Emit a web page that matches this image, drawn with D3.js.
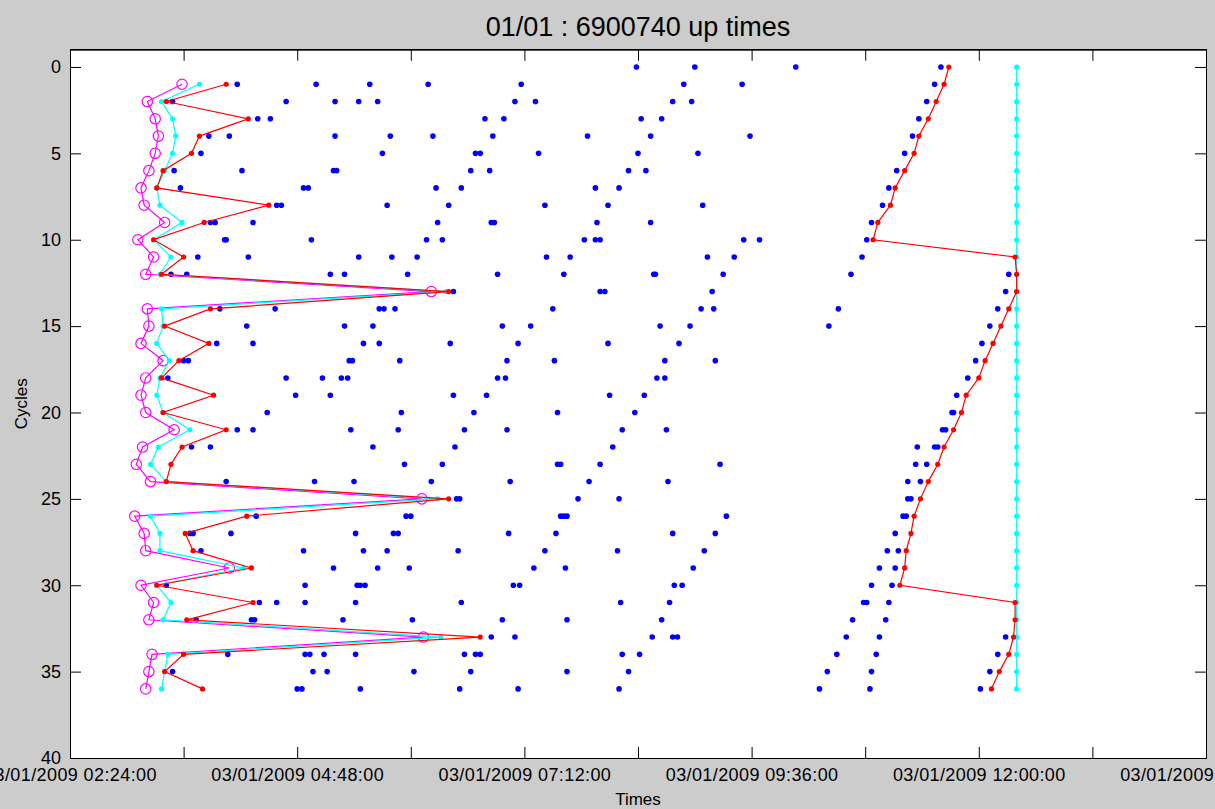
<!DOCTYPE html>
<html>
<head>
<meta charset="utf-8">
<script src="https://cdn.jsdelivr.net/npm/d3@7"></script>
<style>
  html, body { margin: 0; padding: 0; background: #cccccc; overflow: hidden; }
  svg { display: block; font-family: "Liberation Sans", Arial, sans-serif; }
</style>
</head>
<body>
<svg width="1215" height="809"></svg>
<script>
// Day of the recording and cycle numbers
const day = "03/01/2009";
const cycles = [0, 1, 2, 3, 4, 5, 6, 7, 8, 9, 10, 11, 12, 13, 14, 15, 16, 17, 18,
  19, 20, 21, 22, 23, 24, 25, 26, 27, 28, 29, 30, 31, 32, 33, 34, 35, 36];

// Blue dots: up times per cycle
const upTimes = [
  ["08:23", "09:00", "10:04", "11:36"],
  ["04:10", "05:00", "05:34", "06:11", "07:10", "08:53", "09:30", "11:32"],
  ["03:29", "04:41", "05:12", "05:27", "05:39", "07:06", "07:19", "08:46", "08:58", "11:27"],
  ["04:23", "04:31", "06:47", "06:59", "08:26", "08:39", "11:22"],
  ["03:52", "04:05", "05:12", "05:47", "06:14", "06:52", "07:52", "08:32", "09:35", "11:18"],
  ["03:47", "05:42", "06:41", "06:44", "07:21", "08:24", "09:02", "11:13"],
  ["03:30", "04:13", "05:11", "05:13", "06:38", "06:50", "08:18", "08:29", "11:08"],
  ["03:34", "04:52", "04:55", "06:16", "06:32", "07:57", "08:12", "11:03"],
  ["04:35", "04:38", "05:45", "06:24", "07:25", "08:05", "09:05", "10:59"],
  ["03:53", "03:56", "04:20", "06:17", "06:51", "06:53", "07:58", "08:32", "10:52"],
  ["04:02", "04:03", "04:57", "06:10", "06:20", "07:50", "07:57", "08:00", "09:31", "09:41", "10:49"],
  ["03:45", "04:17", "05:27", "05:48", "06:04", "07:26", "07:41", "09:08", "09:25", "10:46"],
  ["03:28", "03:38", "05:09", "05:18", "05:58", "06:55", "07:37", "08:34", "08:35", "09:18", "10:39", "12:19"],
  ["06:27", "08:00", "08:03", "09:11", "12:17"],
  ["03:59", "04:34", "05:40", "05:43", "05:50", "07:30", "09:04", "09:12", "10:31", "12:12"],
  ["04:16", "05:18", "05:36", "06:58", "07:16", "08:38", "08:57", "10:25", "12:07"],
  ["03:57", "04:20", "05:30", "05:40", "06:25", "07:08", "08:05", "08:50", "12:02"],
  ["03:36", "03:39", "05:21", "05:23", "05:53", "07:01", "07:31", "08:41", "09:13", "11:58"],
  ["03:26", "04:41", "05:04", "05:16", "05:20", "06:55", "07:00", "08:36", "08:41", "11:53"],
  ["04:47", "05:09", "06:27", "06:48", "08:06", "08:28", "11:46"],
  ["04:29", "05:54", "06:40", "07:33", "08:22", "11:43", "11:44"],
  ["04:10", "04:20", "05:22", "05:52", "06:34", "07:01", "08:14", "08:42", "11:37", "11:39"],
  ["03:41", "03:53", "05:36", "06:28", "08:08", "11:21", "11:32", "11:34"],
  ["05:56", "06:20", "07:33", "07:35", "08:00", "09:16", "11:20", "11:27"],
  ["04:03", "04:59", "05:24", "06:13", "07:03", "07:53", "08:43", "11:15", "11:23"],
  ["06:29", "06:31", "07:46", "08:12", "11:15", "11:17"],
  ["04:22", "05:57", "06:00", "07:35", "07:37", "07:39", "09:20", "11:12", "11:14"],
  ["03:40", "03:42", "04:06", "05:25", "05:49", "05:52", "07:02", "07:32", "08:46", "09:13", "11:07"],
  ["03:47", "04:52", "05:30", "05:45", "06:30", "07:25", "08:11", "09:06", "11:02", "11:09"],
  ["05:11", "05:39", "05:59", "07:18", "07:38", "08:59", "10:57", "11:07"],
  ["03:25", "04:53", "05:26", "05:28", "05:31", "07:05", "07:09", "08:47", "08:52", "10:52", "11:05"],
  ["04:24", "04:35", "04:53", "05:25", "06:32", "08:13", "08:44", "10:47", "10:49", "11:03"],
  ["03:44", "04:19", "04:21", "05:17", "06:01", "06:58", "07:39", "08:39", "10:40", "11:01"],
  ["06:51", "07:06", "08:33", "08:46", "08:49", "10:36", "10:57", "12:17"],
  ["04:04", "04:53", "04:56", "05:05", "05:25", "06:34", "06:41", "06:44", "08:14", "08:25", "10:30", "10:55", "12:12"],
  ["03:29", "04:58", "05:07", "06:02", "06:38", "07:39", "08:18", "10:24", "10:52", "12:07"],
  ["04:48", "04:51", "05:28", "06:31", "07:08", "08:12", "10:19", "10:51", "12:01"]
];

// Magenta circles (left), cycle 0 has none
const magentaTimes = [null, "03:35", "03:13", "03:18", "03:20", "03:18", "03:14", "03:09", "03:11",
  "03:24", "03:07", "03:17", "03:12", "06:13", "03:13", "03:14", "03:09", "03:23", "03:12", "03:09",
  "03:12", "03:30", "03:10", "03:06", "03:15", "06:07", "03:05", "03:11", "03:12", "04:05", "03:09",
  "03:17", "03:14", "06:08", "03:16", "03:14", "03:12"];

// Cyan line (left)
const cyanLeftTimes = [null, "03:46", "03:22", "03:29", "03:31", "03:29", "03:24", "03:19", "03:21",
  "03:35", "03:17", "03:28", "03:21", "06:22", "03:22", "03:23", "03:19", "03:27", "03:21", "03:19",
  "03:23", "03:40", "03:20", "03:15", "03:25", "06:17", "03:15", "03:21", "03:21", "04:14", "03:19",
  "03:28", "03:23", "06:19", "03:26", "03:24", "03:22"];

// Red line (left)
const redLeftTimes = [null, "04:03", "03:25", "04:17", "03:46", "03:41", "03:23", "03:19", "04:30",
  "03:49", "03:17", "03:36", "03:22", "06:24", "03:53", "03:24", "03:52", "03:33", "03:22", "03:55",
  "03:23", "04:03", "03:35", "03:28", "03:25", "06:24", "04:16", "03:37", "03:42", "04:19", "03:19",
  "04:20", "03:38", "06:44", "03:36", "03:24", "03:48"];

// Red line (right)
const redRightTimes = ["11:41", "11:38", "11:33", "11:28", "11:22", "11:19", "11:13", "11:07", "11:04",
  "10:56", "10:53", "12:23", "12:24", "12:24", "12:19", "12:14", "12:09", "12:04", "12:00", "11:52",
  "11:49", "11:44", "11:38", "11:34", "11:28", "11:23", "11:19", "11:17", "11:14", "11:13", "11:10",
  "12:23", "12:23", "12:22", "12:19", "12:13", "12:08"];

// Cyan line (right)
const cyanRightTimes = ["12:24", "12:24", "12:24", "12:24", "12:24", "12:24", "12:24", "12:24", "12:24",
  "12:24", "12:24", "12:24", "12:24", "12:24", "12:24", "12:24", "12:24", "12:24", "12:24", "12:24",
  "12:24", "12:24", "12:24", "12:24", "12:24", "12:24", "12:24", "12:24", "12:24", "12:24", "12:24",
  "12:24", "12:24", "12:24", "12:24", "12:24", "12:24"];

// Axis ticks
const xTickTimes = ["02:24", "03:36", "04:48", "06:00", "07:12", "08:24", "09:36", "10:48", "12:00", "13:12", "14:24"];
const xLabelTimes = ["02:24", "04:48", "07:12", "09:36", "12:00", "14:24"];
const yTicks = [0, 5, 10, 15, 20, 25, 30, 35, 40];

const parse = d3.timeParse("%d/%m/%Y %H:%M");
const t = (s) => parse(day + " " + s);
const fmt = d3.timeFormat("%d/%m/%Y %H:%M:%S");

// Plot box
const boxLeft = 70, boxRight = 1206, boxTop = 49.7, boxBottom = 758;
const svg = d3.select("svg");

const x = d3.scaleTime().domain([t("02:24"), t("14:24")]).range([boxLeft, boxRight]);
const y = d3.scaleLinear().domain([-1, 40]).range([boxTop, boxBottom]);

// White axes background
svg.append("rect")
  .attr("x", boxLeft).attr("y", boxTop)
  .attr("width", boxRight - boxLeft).attr("height", boxBottom - boxTop)
  .attr("fill", "white");

// Title
svg.append("text")
  .attr("x", (boxLeft + boxRight) / 2)
  .attr("y", 36)
  .attr("text-anchor", "middle")
  .style("font-size", "27px")
  .text("01/01 : 6900740 up times");

const labelSet = new Set(xLabelTimes);
const plot = svg.append("g");

// Blue scatter
const dots = cycles.flatMap((c) => upTimes[c].map((s) => ({ c: c, time: t(s) })));
plot.selectAll(".up")
  .data(dots)
  .enter()
  .append("circle")
  .attr("class", "up")
  .attr("cx", (d) => x(d.time))
  .attr("cy", (d) => y(d.c))
  .attr("r", 2.8)
  .attr("fill", "#0000ff");

function series(times) {
  return cycles
    .filter((c) => times[c] !== null)
    .map((c) => ({ c: c, time: t(times[c]) }));
}

const line = d3.line().x((d) => x(d.time)).y((d) => y(d.c));

function drawSeries(times, color, marker) {
  const pts = series(times);
  plot.append("path")
    .datum(pts)
    .attr("fill", "none")
    .attr("stroke", color)
    .attr("stroke-width", 1.2)
    .attr("d", line);
  const m = plot.append("g")
    .selectAll("circle")
    .data(pts)
    .enter()
    .append("circle")
    .attr("cx", (d) => x(d.time))
    .attr("cy", (d) => y(d.c));
  if (marker === "o") {
    m.attr("r", 5.2).attr("fill", "none").attr("stroke", color).attr("stroke-width", 1.2);
  } else {
    m.attr("r", 2.6).attr("fill", color);
  }
}

drawSeries(magentaTimes, "#ff00ff", "o");
drawSeries(cyanLeftTimes, "#00ffff", ".");
drawSeries(cyanRightTimes, "#00ffff", ".");
drawSeries(redLeftTimes, "#ff0000", ".");
drawSeries(redRightTimes, "#ff0000", ".");

// Axes, ticks inward on all four sides
const xTicks = xTickTimes.map(t);
const tickLen = 11;

svg.append("g")
  .attr("class", "x-axis")
  .attr("transform", `translate(0,${boxBottom})`)
  .call(d3.axisBottom(x).tickValues(xTicks).tickSizeInner(-tickLen).tickSizeOuter(0).tickPadding(10)
    .tickFormat((d) => (labelSet.has(d3.timeFormat("%H:%M")(d)) ? fmt(d) : "")));
svg.append("g")
  .attr("transform", `translate(0,${boxTop})`)
  .call(d3.axisTop(x).tickValues(xTicks).tickSizeInner(-tickLen).tickSizeOuter(0).tickFormat(""));
svg.append("g")
  .attr("transform", `translate(${boxLeft},0)`)
  .call(d3.axisLeft(y).tickValues(yTicks).tickSizeInner(-tickLen).tickSizeOuter(0).tickPadding(9));
svg.append("g")
  .attr("transform", `translate(${boxRight},0)`)
  .call(d3.axisRight(y).tickValues(yTicks).tickSizeInner(-tickLen).tickSizeOuter(0).tickFormat(""));

svg.selectAll(".domain").attr("stroke", "#000");
svg.selectAll(".tick line").attr("stroke", "#000");
svg.selectAll(".tick text")
  .attr("fill", "#000")
  .style("font-size", "18px")
  .style("font-family", "'Liberation Sans', Arial, sans-serif");
svg.selectAll(".x-axis .tick text").style("letter-spacing", "0.4px");

// Box outline
svg.append("rect")
  .attr("x", boxLeft).attr("y", boxTop)
  .attr("width", boxRight - boxLeft).attr("height", boxBottom - boxTop)
  .attr("fill", "none")
  .attr("stroke", "#000")
  .attr("shape-rendering", "crispEdges");

// Axis labels
svg.append("text")
  .attr("x", (boxLeft + boxRight) / 2)
  .attr("y", 805)
  .attr("text-anchor", "middle")
  .style("font-size", "17px")
  .text("Times");

svg.append("text")
  .attr("transform", `translate(27,${(boxTop + boxBottom) / 2}) rotate(-90)`)
  .attr("text-anchor", "middle")
  .style("font-size", "17px")
  .text("Cycles");
</script>
</body>
</html>
